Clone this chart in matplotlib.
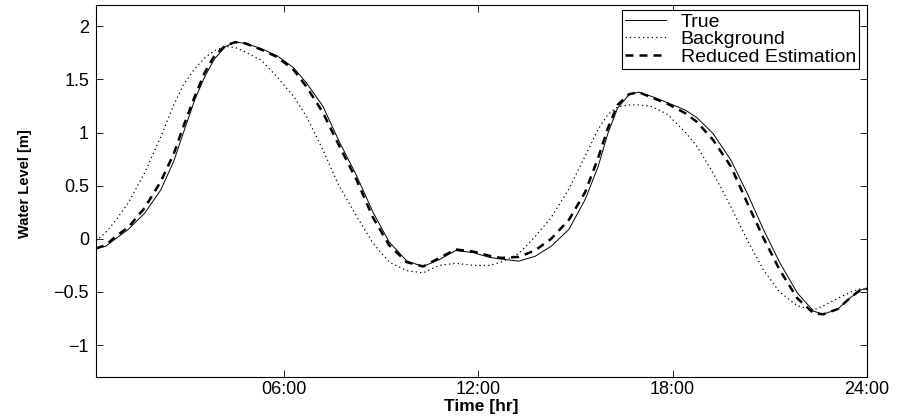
import matplotlib
matplotlib.use("Agg")
import matplotlib.pyplot as plt

# time in hours
hours = [0.2, 0.5, 0.8, 1.2, 1.7, 2.2, 2.6, 2.9, 3.25, 3.55, 3.85, 4.2, 4.5, 4.8,
         5.3, 5.8, 6.3, 6.7, 7.2, 7.7, 8.25, 8.75, 9.25, 9.8, 10.3, 10.8, 11.3,
         11.85, 12.35, 12.7, 13.25, 13.75, 14.25, 14.8, 15.3, 15.7, 16.0, 16.3,
         16.65, 16.95, 17.35, 17.85, 18.4, 18.75, 19.25, 19.8, 20.3, 20.8, 21.3,
         21.85, 22.35, 22.65, 23.1, 23.5, 23.8, 24.0]

true_level = [-0.09, -0.07, 0.00, 0.09, 0.24, 0.46, 0.73, 1.00, 1.31, 1.52, 1.69, 1.81,
              1.85, 1.84, 1.79, 1.72, 1.61, 1.465, 1.25, 0.92, 0.59, 0.25, -0.03,
              -0.21, -0.26, -0.195, -0.11, -0.13, -0.175, -0.19, -0.21, -0.165, -0.07,
              0.09, 0.37, 0.68, 0.99, 1.23, 1.355, 1.38, 1.34, 1.28, 1.21, 1.14, 0.99,
              0.74, 0.43, 0.09, -0.22, -0.51, -0.68, -0.71, -0.66, -0.55, -0.48, -0.47]

background = [-0.02, 0.06, 0.17, 0.34, 0.62, 0.96, 1.26, 1.45, 1.60, 1.70, 1.77, 1.81,
              1.80, 1.76, 1.68, 1.52, 1.34, 1.15, 0.84, 0.50, 0.21, -0.04, -0.22,
              -0.30, -0.32, -0.25, -0.23, -0.25, -0.25, -0.22, -0.14, 0.02, 0.20,
              0.47, 0.78, 1.03, 1.17, 1.24, 1.26, 1.26, 1.245, 1.17, 1.00, 0.87, 0.62,
              0.30, -0.01, -0.29, -0.50, -0.63, -0.67, -0.63, -0.56, -0.50, -0.47, -0.47]

reduced = [-0.09, -0.06, 0.02, 0.11, 0.29, 0.54, 0.80, 1.06, 1.34, 1.56, 1.72, 1.82,
           1.85, 1.84, 1.78, 1.71, 1.59, 1.43, 1.19, 0.88, 0.55, 0.20, -0.06, -0.22,
           -0.26, -0.18, -0.10, -0.12, -0.16, -0.18, -0.17, -0.11, 0.00, 0.18, 0.44,
           0.76, 1.04, 1.26, 1.36, 1.38, 1.33, 1.27, 1.18, 1.10, 0.93, 0.68, 0.34,
           0.01, -0.29, -0.56, -0.70, -0.71, -0.66, -0.55, -0.48, -0.47]

xticks = [6, 12, 18, 24]
xtick_labels = ["06:00", "12:00", "18:00", "24:00"]
yticks = [-1, -0.5, 0, 0.5, 1, 1.5, 2]
ytick_labels = ["\u22121", "\u22120.5", "0", "0.5", "1", "1.5", "2"]

plt.rcParams['font.family'] = ['Liberation Sans', 'DejaVu Sans']

fig = plt.figure(figsize=(9.05, 4.16), dpi=100)
ax = fig.add_axes([96 / 905, 1 - 377 / 416, (867 - 96) / 905, (377 - 5) / 416])

ax.plot(hours, true_level, color="black", lw=0.7, label="True")
ax.plot(hours, background, color="black", lw=0.9, ls=(0, (1, 2.5)), label="Background")
ax.plot(hours, reduced, color="black", lw=1.8, ls=(0, (3.2, 2.4)), label="Reduced Estimation")

ax.set_xlim(0.2, 24)
ax.set_ylim(-1.3, 2.2)
ax.set_xticks(xticks)
ax.set_xticklabels(xtick_labels)
ax.set_yticks(yticks)
ax.set_yticklabels(ytick_labels)
ax.tick_params(direction="in", length=5, width=0.6, top=True, right=True,
               labelsize=13)
ax.tick_params(axis="x", pad=3)
ax.tick_params(axis="y", pad=5)
for s in ax.spines.values():
    s.set_linewidth(0.8)

ax.set_xlabel("Time [hr]", fontsize=12.5, fontweight="bold", va="top")
ax.xaxis.set_label_coords(0.5, -0.06)
ax.set_ylabel("Water Level [m]", fontsize=10.5, fontweight="bold")
ax.yaxis.set_label_coords(-0.083, 0.52)

leg = ax.legend(loc="upper right", bbox_to_anchor=(0.9896, 0.9866), borderaxespad=0,
                fontsize=14, fancybox=False, framealpha=1, edgecolor="black",
                handlelength=2.1, handletextpad=0.75, labelspacing=0.0, borderpad=0.15)
leg.get_frame().set_linewidth(0.8)

fig.savefig("out.png", dpi=100)
